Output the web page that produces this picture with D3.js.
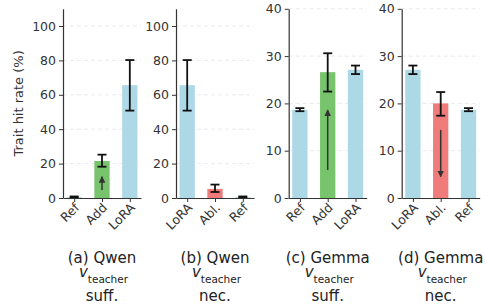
<!DOCTYPE html>
<html lang="en">
<head>
<meta charset="UTF-8">
<title>Trait hit rate</title>
<script src="https://d3js.org/d3.v7.min.js"></script>
<style>
  body { margin: 0; background: #fff; }
  svg text { font-family: "DejaVu Sans", sans-serif !important; }
</style>
</head>
<body>
<svg width="485" height="304"></svg>
<script>
// data, one entry per panel
const panelLabels = ['(a) Qwen', '(b) Qwen', '(c) Gemma', '(d) Gemma'];
const panelKinds = ['suff.', 'nec.', 'suff.', 'nec.'];
const categories = [
  ['Ref', 'Add', 'LoRA'],
  ['LoRA', 'Abl.', 'Ref'],
  ['Ref', 'Add', 'LoRA'],
  ['LoRA', 'Abl.', 'Ref']
];
const hitRate = [
  [0.5, 21.5, 65.6],
  [65.6, 5.3, 0.5],
  [18.65, 26.6, 27.1],
  [27.1, 20.0, 18.65]
];
const errLow = [
  [0.2, 18.2, 50.8],
  [50.8, 3.5, 0.2],
  [18.35, 22.5, 26.2],
  [26.2, 17.4, 18.35]
];
const errHigh = [
  [0.9, 25.2, 80.2],
  [80.2, 7.8, 0.9],
  [19.0, 30.6, 28.0],
  [28.0, 22.4, 19.0]
];
const yMax = [110, 110, 40, 40];
const yTicks = [
  [0, 20, 40, 60, 80, 100],
  [0, 20, 40, 60, 80, 100],
  [0, 10, 20, 30, 40],
  [0, 10, 20, 30, 40]
];
// steering arrow drawn inside the middle bar: [from, to]
const arrowFrom = [4.6, null, 5.9, 14.4];
const arrowTo = [12.4, null, 18.6, 4.5];

const colorOf = { 'Ref': '#add8e6', 'LoRA': '#add8e6', 'Add': '#77c46c', 'Abl.': '#ef7b7b' };

const svg = d3.select('svg');
const axisLeftX = [63, 176, 288.7, 401.7];
const panelW = 78;
const plotTop = 8.8, plotBottom = 198;

svg.append('defs').append('marker')
  .attr('id', 'head')
  .attr('viewBox', '0 0 10 10')
  .attr('refX', 9).attr('refY', 5)
  .attr('markerWidth', 4.5).attr('markerHeight', 4.5)
  .attr('markerUnits', 'strokeWidth')
  .attr('orient', 'auto')
  .append('path').attr('d', 'M0,0 L10,5 L0,10 z').attr('fill', '#333');

panelLabels.forEach((label, p) => {
  const g = svg.append('g').attr('transform', `translate(${axisLeftX[p]},0)`);
  const x = d3.scaleLinear().domain([-0.4025, 2.4025]).range([0, panelW]);
  const y = d3.scaleLinear().domain([0, yMax[p]]).range([plotBottom, plotTop]);
  const bw = x(0.55) - x(0);

  // grid
  g.selectAll('.grid').data(yTicks[p].filter(t => t > 0)).enter().append('line')
    .attr('x1', 0).attr('x2', panelW)
    .attr('y1', d => y(d)).attr('y2', d => y(d))
    .attr('stroke', '#e4e4ec').attr('stroke-width', 0.8)
    .attr('stroke-dasharray', '4,3');

  const idx = d3.range(categories[p].length);

  g.selectAll('.bar').data(idx).enter().append('rect')
    .attr('x', i => x(i) - bw / 2)
    .attr('y', i => y(hitRate[p][i]))
    .attr('width', bw)
    .attr('height', i => y(0) - y(hitRate[p][i]))
    .attr('fill', i => colorOf[categories[p][i]]);

  // arrow
  if (arrowFrom[p] !== null) {
    g.append('line')
      .attr('x1', x(1)).attr('x2', x(1))
      .attr('y1', y(arrowFrom[p])).attr('y2', y(arrowTo[p]))
      .attr('stroke', '#333').attr('stroke-width', 1.5)
      .attr('marker-end', 'url(#head)');
  }

  // error bars
  const eb = g.selectAll('.err').data(idx).enter().append('g');
  eb.append('line')
    .attr('x1', i => x(i)).attr('x2', i => x(i))
    .attr('y1', i => y(errLow[p][i])).attr('y2', i => y(errHigh[p][i]))
    .attr('stroke', '#111').attr('stroke-width', 1.8);
  [errLow, errHigh].forEach(arr => {
    eb.append('line')
      .attr('x1', i => x(i) - 4.5).attr('x2', i => x(i) + 4.5)
      .attr('y1', i => y(arr[p][i])).attr('y2', i => y(arr[p][i]))
      .attr('stroke', '#111').attr('stroke-width', 1.8);
  });

  // axes
  const ya = g.append('g')
    .call(d3.axisLeft(y).tickValues(yTicks[p]).tickSize(4).tickSizeOuter(0).tickPadding(3));
  ya.select('.domain').attr('stroke', '#333').attr('stroke-width', 1.2);
  ya.selectAll('.tick line').attr('stroke', '#333').attr('stroke-width', 1);
  ya.selectAll('text').attr('font-size', 12.5).attr('fill', '#333');

  const xa = g.append('g').attr('transform', `translate(0,${plotBottom})`)
    .call(d3.axisBottom(x).tickValues(idx).tickFormat(i => categories[p][i])
      .tickSize(4).tickSizeOuter(0));
  xa.select('.domain').attr('stroke', '#333').attr('stroke-width', 1.2);
  xa.selectAll('.tick line').attr('stroke', '#333').attr('stroke-width', 1);
  xa.selectAll('text')
    .attr('font-size', 12.5).attr('fill', '#333')
    .attr('text-anchor', 'end')
    .attr('dy', null).attr('y', 0)
    .attr('transform', 'translate(3,8) rotate(-45)')
    .attr('dominant-baseline', 'middle');

  // caption
  const cx = panelW / 2;
  g.append('text')
    .attr('x', cx).attr('y', 263).attr('text-anchor', 'middle')
    .attr('font-size', 15).attr('fill', '#222').text(label);
  const vt = g.append('text')
    .attr('x', cx + 1.5).attr('y', 277).attr('text-anchor', 'middle').attr('fill', '#222');
  vt.append('tspan').attr('font-size', 15).attr('font-style', 'italic').text('v');
  vt.append('tspan').attr('font-size', 10.5).attr('dy', 6.4).text('teacher');
  g.append('text')
    .attr('x', cx).attr('y', 300.5).attr('text-anchor', 'middle')
    .attr('font-size', 15).attr('fill', '#222').text(panelKinds[p]);
});

svg.append('text')
  .attr('transform', `translate(23,${(plotTop + plotBottom) / 2}) rotate(-90)`)
  .attr('text-anchor', 'middle')
  .attr('font-size', 13).attr('fill', '#333')
  .text('Trait hit rate (%)');
</script>
</body>
</html>
